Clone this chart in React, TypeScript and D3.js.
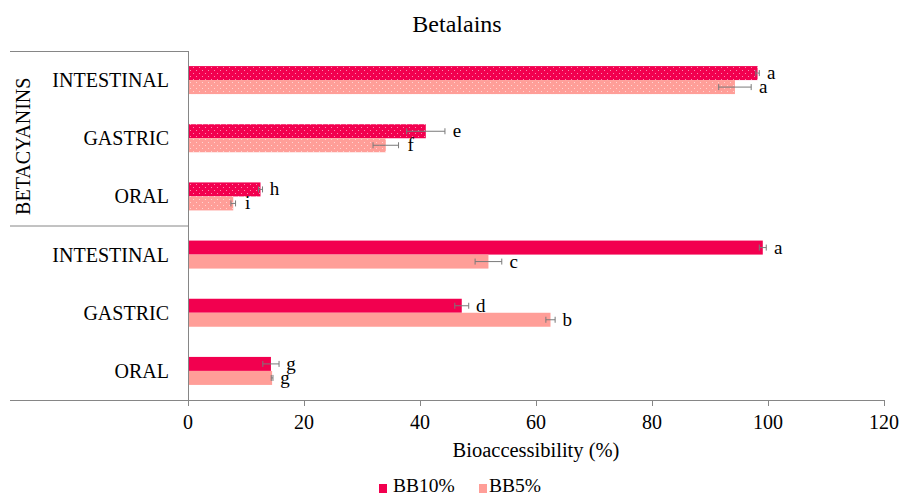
import React from "react";
import * as d3 from "d3";

const categories = ["INTESTINAL", "GASTRIC", "ORAL"];
const groups = ["BETACYANINS", ""];
const series = ["BB10%", "BB5%"];

// values per group: [INTESTINAL, GASTRIC, ORAL]
const bb10 = [
  [98.2, 41.0, 12.5],
  [99.1, 47.2, 14.3],
];
const bb10Err = [
  [0.3, 3.3, 0.35],
  [0.6, 1.2, 1.4],
];
const bb5 = [
  [94.3, 34.1, 7.8],
  [51.8, 62.5, 14.5],
];
const bb5Err = [
  [2.8, 2.2, 0.4],
  [2.3, 0.8, 0.15],
];
const letters10 = [
  ["a", "e", "h"],
  ["a", "d", "g"],
];
const letters5 = [
  ["a", "f", "i"],
  ["c", "b", "g"],
];
const xTicks = [0, 20, 40, 60, 80, 100, 120];

const W = 901;
const H = 497;
const FONT = "'Liberation Serif', 'Times New Roman', serif";
const C10 = "#F2004F";
const C5 = "#FF9E98";
const AXIS = "#868686";
const ERR = "#7a7a7a";

export default function App() {
  const left = 188;
  const right = 884;
  const top = 51;
  const bottom = 400;
  const boxLeft = 10;

  const x = d3.scaleLinear().domain([0, 120]).range([left, right]);
  const rows: { g: number; c: number; key: string }[] = [];
  groups.forEach((_, gi) =>
    categories.forEach((_, ci) => rows.push({ g: gi, c: ci, key: `${gi}-${ci}` }))
  );
  const y = d3
    .scaleBand<string>()
    .domain(rows.map((r) => r.key))
    .range([top, bottom])
    .paddingInner(0)
    .paddingOuter(0);
  const bw = y.bandwidth();
  const barH = 14;
  const sub = d3
    .scaleBand<string>()
    .domain(series)
    .range([bw / 2 - barH, bw / 2 + barH]);

  const groupBoundary = top + bw * categories.length;

  const bars: JSX.Element[] = [];
  rows.forEach((r) => {
    const y0 = y(r.key)!;
    const defs = [
      { s: series[0], v: bb10[r.g][r.c], e: bb10Err[r.g][r.c], l: letters10[r.g][r.c], col: C10, pat: "dots10" },
      { s: series[1], v: bb5[r.g][r.c], e: bb5Err[r.g][r.c], l: letters5[r.g][r.c], col: C5, pat: "dots5" },
    ];
    defs.forEach((d) => {
      const by = y0 + sub(d.s)!;
      const cy = by + sub.bandwidth() / 2;
      const fill = r.g === 0 ? `url(#${d.pat})` : d.col;
      bars.push(
        <rect key={`b-${r.key}-${d.s}`} x={x(0)} y={by} width={x(d.v) - x(0)} height={sub.bandwidth()} fill={fill} />
      );
      const x1 = x(d.v - d.e);
      const x2 = x(d.v + d.e);
      bars.push(
        <g key={`e-${r.key}-${d.s}`} stroke={ERR} strokeWidth={1}>
          <line x1={x1} x2={x2} y1={cy} y2={cy} />
          <line x1={x1} x2={x1} y1={cy - 3} y2={cy + 3} />
          <line x1={x2} x2={x2} y1={cy - 3} y2={cy + 3} />
        </g>
      );
      bars.push(
        <text key={`l-${r.key}-${d.s}`} x={x2 + 12} y={cy + 6} textAnchor="middle" fontSize={19} fontFamily={FONT} fill="#000">
          {d.l}
        </text>
      );
    });
  });

  return (
    <svg width={W} height={H} style={{ position: "absolute", left: 0, top: 0, background: "#fff" }}>
      <defs>
        <pattern id="dots10" width={6} height={6} patternUnits="userSpaceOnUse">
          <rect width={6} height={6} fill={C10} />
          <rect x={1} y={1} width={1} height={1} fill="#fff" opacity={0.55} />
          <rect x={4} y={4} width={1} height={1} fill="#fff" opacity={0.55} />
        </pattern>
        <pattern id="dots5" width={6} height={6} patternUnits="userSpaceOnUse">
          <rect width={6} height={6} fill={C5} />
          <rect x={1} y={1} width={1} height={1} fill="#fff" opacity={0.55} />
          <rect x={4} y={4} width={1} height={1} fill="#fff" opacity={0.55} />
        </pattern>
      </defs>

      <text x={457} y={32} textAnchor="middle" fontSize={24} fontFamily={FONT} fill="#000">
        Betalains
      </text>

      {bars}

      {/* axes / category box */}
      <g stroke={AXIS} strokeWidth={1} fill="none">
        <line x1={boxLeft} x2={left + 0.5} y1={top + 0.5} y2={top + 0.5} />
        <line x1={boxLeft} x2={left + 0.5} y1={groupBoundary + 0.5} y2={groupBoundary + 0.5} />
        <line x1={boxLeft} x2={right + 0.5} y1={bottom + 0.5} y2={bottom + 0.5} />
        <line x1={left + 0.5} x2={left + 0.5} y1={top} y2={bottom + 6} />
        {xTicks.map((t) => (
          <line key={`t${t}`} x1={Math.round(x(t)) + 0.5} x2={Math.round(x(t)) + 0.5} y1={bottom} y2={bottom + 6} />
        ))}
      </g>

      {xTicks.map((t) => (
        <text key={`tl${t}`} x={x(t)} y={429} textAnchor="middle" fontSize={20} fontFamily={FONT} fill="#000">
          {t}
        </text>
      ))}

      {rows.map((r) => (
        <text key={`c-${r.key}`} x={169} y={y(r.key)! + bw / 2 + 7} textAnchor="end" fontSize={20} fontFamily={FONT} fill="#000">
          {categories[r.c]}
        </text>
      ))}

      {groups.map((g, gi) =>
        g ? (
          <text
            key={`g${gi}`}
            transform={`translate(30, ${top + bw * categories.length * (gi + 0.5) + 8}) rotate(-90)`}
            textAnchor="middle"
            fontSize={20}
            fontFamily={FONT}
            fill="#000"
          >
            {g}
          </text>
        ) : null
      )}

      <text x={(left + right) / 2} y={457} textAnchor="middle" fontSize={20.5} fontFamily={FONT} fill="#000">
        Bioaccessibility (%)
      </text>

      {/* legend */}
      <g fontFamily={FONT} fontSize={19.5} fill="#000">
        <rect x={379} y={484} width={8} height={9} fill={C10} />
        <text x={393} y={492}>{series[0]}</text>
        <rect x={479} y={484} width={8} height={9} fill={C5} />
        <text x={489} y={492}>{series[1]}</text>
      </g>
    </svg>
  );
}
